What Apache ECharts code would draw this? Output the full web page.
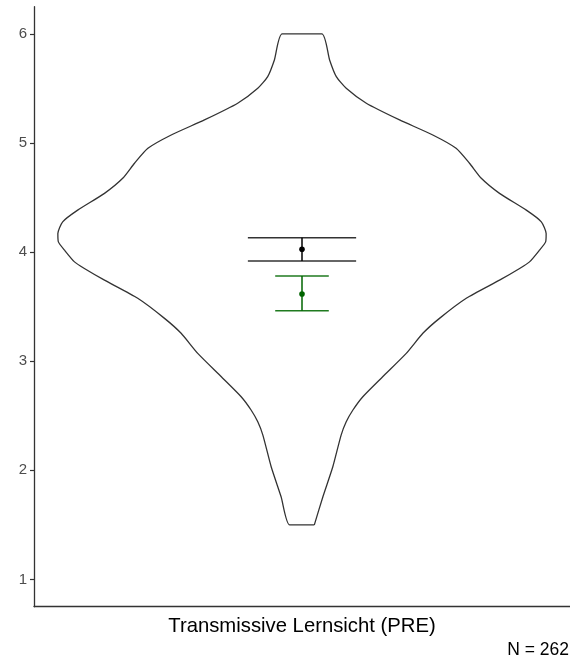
<!DOCTYPE html>
<html>
<head>
<meta charset="utf-8">
<script src="https://cdn.jsdelivr.net/npm/echarts@6/dist/echarts.min.js"></script>
<style>
  html, body { margin: 0; padding: 0; background: #fff; }
  #chart { width: 570px; height: 660px; }
</style>
</head>
<body>
<div id="chart"></div>
<script>
// violin outline: value on y, half width (x units, 1 = half plot width)
const violinY = [1.5, 1.758, 2.033, 2.323, 2.445, 2.553, 2.675, 2.858, 3.072, 3.256, 3.393, 3.577,
  3.743, 3.85, 3.911, 4.018, 4.094, 4.171, 4.278, 4.385, 4.539, 4.677, 4.815, 4.952, 5.074,
  5.212, 5.365, 5.502, 5.609, 5.762, 6.0];
const violinHalfWidth = [0.046, 0.078, 0.115, 0.146, 0.165, 0.19, 0.227, 0.301, 0.389, 0.451,
  0.513, 0.613, 0.737, 0.812, 0.849, 0.886, 0.909, 0.911, 0.893, 0.837, 0.737, 0.669, 0.625,
  0.575, 0.488, 0.364, 0.24, 0.165, 0.128, 0.103, 0.074];

// mean, lower, upper
const meanAll = [4.026, 3.919, 4.132];
const meanGroup = [3.616, 3.463, 3.781];

const yTicks = [1, 2, 3, 4, 5, 6];
const xLabel = "Transmissive Lernsicht (PRE)";
const nLabel = "N = 262";

// closed outline: right side bottom -> top, left side top -> bottom
const outline = [];
violinY.forEach((y, i) => outline.push([violinHalfWidth[i], y]));
for (let i = violinY.length - 1; i >= 0; i--) outline.push([-violinHalfWidth[i], violinY[i]]);
outline.push([violinHalfWidth[0], violinY[0]]);

function errorBar(vals, color, capColor, capHalf) {
  return {
    type: "custom",
    data: [[0, vals[0], vals[1], vals[2]]],
    renderItem: (params, api) => {
      const mid = api.coord([0, api.value(1)]);
      const lo = api.coord([0, api.value(2)]);
      const hi = api.coord([0, api.value(3)]);
      const l = api.coord([-capHalf, 0])[0];
      const r = api.coord([capHalf, 0])[0];
      return {
        type: "group",
        children: [
          { type: "line", shape: { x1: l, y1: lo[1], x2: r, y2: lo[1] }, style: { stroke: capColor, lineWidth: 1.5 } },
          { type: "line", shape: { x1: l, y1: hi[1], x2: r, y2: hi[1] }, style: { stroke: capColor, lineWidth: 1.5 } },
          { type: "line", shape: { x1: mid[0], y1: lo[1], x2: mid[0], y2: hi[1] }, style: { stroke: color, lineWidth: 1.5 } },
          { type: "circle", shape: { cx: mid[0], cy: mid[1], r: 2.8 }, style: { fill: color } }
        ]
      };
    },
    z: 5
  };
}

const chart = echarts.init(document.getElementById("chart"));
chart.setOption({
  animation: false,
  textStyle: { fontFamily: "Liberation Sans, Arial, sans-serif" },
  grid: { left: 34, right: 0, top: 6.7, bottom: 53.3 },
  xAxis: {
    type: "value",
    min: -1,
    max: 1,
    axisLine: { show: true, onZero: false, lineStyle: { color: "#333", width: 1.3 } },
    axisTick: { show: false },
    axisLabel: { show: false },
    splitLine: { show: false }
  },
  yAxis: {
    type: "value",
    min: 0.75,
    max: 6.25,
    axisLine: { show: true, onZero: false, lineStyle: { color: "#333", width: 1.3 } },
    axisTick: { show: true, length: 4, customValues: yTicks, lineStyle: { color: "#333", width: 1.2 } },
    axisLabel: { customValues: yTicks, color: "#4d4d4d", fontSize: 15, margin: 7 },
    splitLine: { show: false }
  },
  graphic: [
    { type: "text", x: 302, y: 626.5, style: { text: xLabel, fill: "#000", font: "20.3px Liberation Sans", textAlign: "center", textVerticalAlign: "middle" } },
    { type: "text", x: 569, y: 650.5, style: { text: nLabel, fill: "#000", font: "17.5px Liberation Sans", textAlign: "right", textVerticalAlign: "middle" } }
  ],
  series: [
    {
      type: "line",
      data: outline,
      smooth: 0.2,
      showSymbol: false,
      lineStyle: { color: "#333", width: 1.3 }
    },
    errorBar(meanAll, "#000", "#333", 0.202),
    errorBar(meanGroup, "#006400", "#1f7a1f", 0.1)
  ]
});
</script>
</body>
</html>
